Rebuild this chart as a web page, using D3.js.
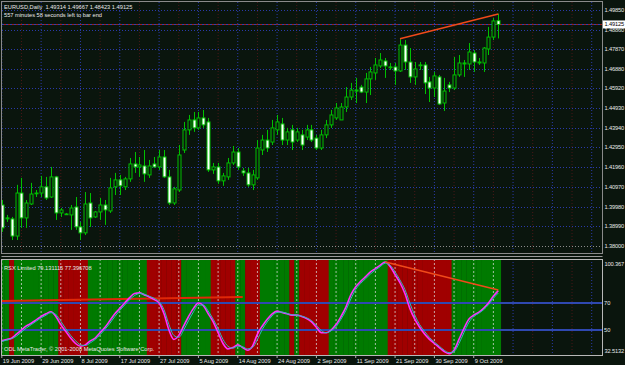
<!DOCTYPE html>
<html><head><meta charset="utf-8">
<script src="https://cdn.jsdelivr.net/npm/d3@7/dist/d3.min.js"></script>
<style>html,body{margin:0;padding:0;background:#0a150d;}svg{display:block}text{font-family:"Liberation Sans",Arial,sans-serif;white-space:pre}</style>
</head><body>
<svg id="c" width="625" height="365"></svg>
<script>
// ---------- DATA ----------
const symbolTitle = "EURUSD,Daily  1.49314 1.49667 1.48423 1.49125";
const timerText = "557 minutes 58 seconds left to bar end";
const rsiTitle = "RSX Limited 79.131115 77.396708";
const copyright = "ODL MetaTrader, \u00a9 2001-2008 MetaQuotes Software Corp.";
const dateLabels = ["19 Jun 2009","29 Jun 2009","8 Jul 2009","17 Jul 2009","27 Jul 2009","5 Aug 2009","14 Aug 2009","24 Aug 2009","2 Sep 2009","11 Sep 2009","21 Sep 2009","30 Sep 2009","9 Oct 2009"];
const dateLabelEvery = 8;
const priceTicks = [1.49850,1.48860,1.47870,1.46880,1.45920,1.44930,1.43940,1.42950,1.41960,1.40970,1.39980,1.38990,1.38000];
const priceMin = 1.38000, priceMax = 1.49850;
const bidPrice = 1.49125;
const rsiMin = 32.5132, rsiMax = 100.367;
const rsiLevels = [70, 50];
// candles: [open, high, low, close]
const candles = [
[1.4006,1.4031,1.3871,1.3891],[1.3941,1.3956,1.3921,1.3936],[1.3936,1.3946,1.3830,1.3850],[1.3850,1.4107,1.3830,1.4066],
[1.4066,1.4142,1.3891,1.3941],[1.3941,1.4031,1.3891,1.4016],[1.4011,1.4117,1.4006,1.4061],[1.4066,1.4081,1.4046,1.4063],
[1.4066,1.4152,1.4046,1.4097],[1.4097,1.4147,1.4031,1.4041],[1.4046,1.4197,1.4041,1.4147],[1.4147,1.4152,1.3931,1.3966],
[1.3966,1.3991,1.3946,1.3981],[1.3961,1.3966,1.3956,1.3961],[1.3956,1.4006,1.3881,1.3991],[1.3996,1.4046,1.3881,1.3896],
[1.3896,1.3921,1.3830,1.3866],[1.3866,1.4071,1.3855,1.4011],[1.4016,1.4066,1.3896,1.3941],[1.3946,1.3976,1.3941,1.3971],
[1.3971,1.4041,1.3931,1.4006],[1.4006,1.4031,1.3906,1.3981],[1.3976,1.4142,1.3966,1.4092],[1.4097,1.4167,1.4056,1.4132],
[1.4132,1.4157,1.4056,1.4102],[1.4097,1.4147,1.4081,1.4137],[1.4137,1.4242,1.4122,1.4212],[1.4212,1.4272,1.4167,1.4197],
[1.4197,1.4247,1.4147,1.4207],[1.4202,1.4282,1.4122,1.4162],[1.4157,1.4232,1.4142,1.4202],[1.4212,1.4247,1.4192,1.4197],
[1.4197,1.4282,1.4182,1.4247],[1.4247,1.4282,1.4142,1.4147],[1.4147,1.4182,1.4006,1.4016],[1.4016,1.4097,1.4006,1.4087],
[1.4081,1.4307,1.4071,1.4257],[1.4282,1.4423,1.4267,1.4383],[1.4383,1.4458,1.4358,1.4433],[1.4433,1.4473,1.4373,1.4393],
[1.4393,1.4473,1.4383,1.4443],[1.4443,1.4483,1.4393,1.4408],[1.4423,1.4443,1.4172,1.4182],[1.4182,1.4217,1.4162,1.4197],
[1.4197,1.4217,1.4112,1.4127],[1.4127,1.4167,1.4102,1.4152],[1.4147,1.4242,1.4132,1.4217],[1.4217,1.4302,1.4207,1.4272],
[1.4272,1.4292,1.4182,1.4197],[1.4177,1.4192,1.4152,1.4167],[1.4167,1.4192,1.4097,1.4107],[1.4107,1.4182,1.4081,1.4157],
[1.4142,1.4332,1.4132,1.4292],[1.4282,1.4358,1.4257,1.4332],[1.4332,1.4383,1.4272,1.4292],[1.4322,1.4433,1.4307,1.4393],
[1.4383,1.4458,1.4358,1.4423],[1.4413,1.4443,1.4307,1.4332],[1.4332,1.4393,1.4307,1.4373],[1.4383,1.4408,1.4282,1.4322],
[1.4332,1.4393,1.4322,1.4373],[1.4358,1.4383,1.4282,1.4307],[1.4347,1.4408,1.4332,1.4383],[1.4383,1.4408,1.4322,1.4332],
[1.4342,1.4358,1.4282,1.4292],[1.4292,1.4383,1.4282,1.4358],[1.4358,1.4433,1.4342,1.4408],[1.4408,1.4483,1.4393,1.4458],
[1.4443,1.4518,1.4433,1.4493],[1.4433,1.4518,1.4433,1.4498],[1.4498,1.4598,1.4473,1.4548],[1.4548,1.4619,1.4533,1.4583],
[1.4583,1.4644,1.4518,1.4578],[1.4598,1.4609,1.4568,1.4573],[1.4573,1.4669,1.4518,1.4639],[1.4639,1.4699,1.4558,1.4674],
[1.4669,1.4744,1.4634,1.4709],[1.4704,1.4769,1.4694,1.4734],[1.4729,1.4744,1.4644,1.4704],[1.4699,1.4719,1.4684,1.4698],
[1.4699,1.4719,1.4609,1.4679],[1.4679,1.4839,1.4674,1.4809],[1.4809,1.4834,1.4684,1.4724],[1.4724,1.4794,1.4619,1.4649],
[1.4649,1.4724,1.4609,1.4689],[1.4709,1.4724,1.4684,1.4708],[1.4709,1.4724,1.4563,1.4619],[1.4624,1.4649,1.4523,1.4593],
[1.4593,1.4674,1.4548,1.4654],[1.4649,1.4659,1.4508,1.4513],[1.4518,1.4644,1.4478,1.4578],[1.4609,1.4624,1.4573,1.4593],
[1.4593,1.4749,1.4583,1.4659],[1.4659,1.4759,1.4649,1.4719],[1.4719,1.4734,1.4649,1.4714],[1.4714,1.4819,1.4684,1.4774],
[1.4769,1.4784,1.4674,1.4724],[1.4719,1.4744,1.4709,1.4724],[1.4719,1.4799,1.4674,1.4794],[1.4789,1.4900,1.4759,1.4849],
[1.4849,1.4945,1.4834,1.4930],[1.49314,1.49667,1.48423,1.49125]
];
const rsxMain = [42,43,44,47,50,53,55,57.5,60,62, 63.5,60,54,49,44,40,38,39,42,44,
48,52,57,62,66,70,74,77,77.5,76, 74.5,72.5,70,62,50,43,46,53,60,66,
70,68,62,56,48,40,36,37,39,37, 35,38,47,53,58,62,64,63,62,61,
61,60,58.5,56,52,48,48,50,54,60, 67,76,82,86,89.5,93,95.5,98,100.367,97,
91,85,77,66,58,52,47,43,40,37, 34,32.5132,35,43,51,58,61,63,66,70, 75,79.131115];
const rsxSignal = [41.5,42.5,43.5,45.5,48.5,51.5,54,56.5,59,61, 62.8,61.5,56.5,51,46,42,39,38.5,40.5,43,
46.5,50.5,55,60,64.5,68.5,72.5,75.5,77,76.5, 75,73.5,71,65,54,46,44.5,50,57,63.5,
68.5,68.5,64,58,51,43,38,36.5,38,37.5, 36,37,43,50.5,56,60.5,63,63.3,62.3,61.3,
61,60.3,59,57,53.5,49.5,48,49.5,52.5,58, 64.5,73,80,84.5,88,91.5,94.5,97,99.5,98,
93,87,80,70,61,54,49,44.5,41,38, 35,33.2,34,40,48,55.5,60,62.3,65,68.7, 73.5,77.396708];
// background state per bar: G = rising (green), R = falling (red)
const bandState = "GGRGGGGGGGGGRRRRRRGGGGGGGGGGGGRRRRRRRGGGGGGRRRRRGGRRRGGGGGGRGRRRRRRGGGGGGGGGGGGRRRRRRRRRRRRRGGGGGGGGGG";
// drawn trend lines: [bar, value]
const priceTrend = [[81,1.4841],[101,1.4965]];
const rsiTrendUp = [[0,71.5],[49,74.4]];
const rsiTrendDown = [[78,100.367],[101,79.6]];

// ---------- DRAW ----------
const bg="#0a150d", gridBlue="#2a3aa8", frame="#8a8a8a", txt="#e8e8e8", green="#00c000";
const FS=5.7;
const svg=d3.select("#c");
svg.append("rect").attr("width",625).attr("height",365).attr("fill",bg);
const left=2, right=602, mainTop=2, mainBot=253, rsiTop=259, rsiBot=355;
const nBars=candles.length;
const x=d3.scaleLinear().domain([0,nBars-1]).range([1.8,498.3]);
const step=x(1)-x(0);
const yP=d3.scaleLinear().domain([priceMin,priceMax]).range([246,10]);
const yR=d3.scaleLinear().domain([rsiMin,rsiMax]).range([353.6,262]);

const defs=svg.append("defs");
defs.append("clipPath").attr("id","cm").append("rect").attr("x",left).attr("y",mainTop).attr("width",right-left).attr("height",mainBot-mainTop);
defs.append("clipPath").attr("id","cr").append("rect").attr("x",left).attr("y",rsiTop+1).attr("width",right-left).attr("height",rsiBot-rsiTop-1);

// main grid
const gMain=svg.append("g").attr("clip-path","url(#cm)");
const gridBars=d3.range(0,124,4);
gMain.selectAll("line.vg").data(gridBars).join("line")
  .attr("x1",d=>x(d)).attr("x2",d=>x(d)).attr("y1",mainTop).attr("y2",mainBot)
  .attr("stroke",d=>d%8===0?gridBlue:"#4a1818").attr("stroke-dasharray","1,2");
gMain.selectAll("line.hg").data(priceTicks).join("line")
  .attr("x1",left).attr("x2",right).attr("y1",d=>Math.round(yP(d))+0.5).attr("y2",d=>Math.round(yP(d))+0.5)
  .attr("stroke",d=>d===priceMin?"#8c8c8c":gridBlue).attr("stroke-dasharray","1,2");
// bid line
gMain.append("line").attr("x1",left).attr("x2",right).attr("y1",Math.round(yP(bidPrice))+0.5).attr("y2",Math.round(yP(bidPrice))+0.5)
  .attr("stroke","#3040b0").attr("stroke-dasharray","2,2");
gMain.append("line").attr("x1",left).attr("x2",right).attr("y1",Math.round(yP(bidPrice))+0.5).attr("y2",Math.round(yP(bidPrice))+0.5)
  .attr("stroke","#a02020").attr("stroke-dasharray","2,2").attr("stroke-dashoffset",2);

// candles
const cg=gMain.selectAll("g.c").data(candles).join("g");
cg.append("line").attr("x1",(d,i)=>Math.round(x(i))+0.5).attr("x2",(d,i)=>Math.round(x(i))+0.5)
  .attr("y1",d=>yP(d[1])).attr("y2",d=>yP(d[2])).attr("stroke",green).attr("stroke-width",1);
cg.append("rect").attr("x",(d,i)=>Math.round(x(i))-1).attr("width",3)
  .attr("y",d=>yP(Math.max(d[0],d[3]))).attr("height",d=>Math.max(0.8,Math.abs(yP(d[0])-yP(d[3]))))
  .attr("fill",d=>d[3]<d[0]?"#ffffff":bg).attr("stroke",green).attr("stroke-width",1);
// price trend line
gMain.append("line").attr("x1",x(priceTrend[0][0])).attr("y1",yP(priceTrend[0][1]))
  .attr("x2",x(priceTrend[1][0])).attr("y2",yP(priceTrend[1][1])).attr("stroke","#f04a1a").attr("stroke-width",1.5);

// RSI panel
const gR=svg.append("g").attr("clip-path","url(#cr)");
gR.selectAll("rect.band").data(bandState.split("")).join("rect")
  .attr("x",(d,i)=>x(i-0.5)).attr("width",step+0.3).attr("y",rsiTop+1).attr("height",rsiBot-rsiTop-1)
  .attr("fill",d=>d==="G"?"#007a00":"#a00000");
const bandEnd=x(nBars-0.5);
gR.selectAll("line.vg").data(gridBars).join("line")
  .attr("x1",d=>x(d)).attr("x2",d=>x(d)).attr("y1",rsiTop).attr("y2",rsiBot)
  .attr("stroke",d=>x(d)<bandEnd?"#d8d8d8":(d%8===0?gridBlue:"#4a1818"))
  .attr("stroke-dasharray",d=>x(d)<bandEnd?"2,2":"1,2").attr("stroke-opacity",d=>x(d)<bandEnd?0.75:1);
gR.selectAll("line.lv").data(rsiLevels).join("line")
  .attr("x1",left).attr("x2",right).attr("y1",d=>yR(d)).attr("y2",d=>yR(d))
  .attr("stroke","#2f48b0").attr("stroke-width",2);
gR.append("line").attr("x1",x(rsiTrendUp[0][0])).attr("y1",yR(rsiTrendUp[0][1]))
  .attr("x2",x(rsiTrendUp[1][0])).attr("y2",yR(rsiTrendUp[1][1])).attr("stroke","#e02808").attr("stroke-width",2);
const line=d3.line().x((d,i)=>x(i)).y(d=>yR(d)).curve(d3.curveMonotoneX);
gR.append("path").attr("d",line(rsxMain)).attr("fill","none").attr("stroke","#ff30ff").attr("stroke-width",1.6);
gR.append("path").attr("d",line(rsxSignal)).attr("fill","none").attr("stroke","#30b8c0").attr("stroke-width",1);
gR.append("line").attr("x1",x(rsiTrendDown[0][0])).attr("y1",yR(rsiTrendDown[0][1]))
  .attr("x2",x(rsiTrendDown[1][0])).attr("y2",yR(rsiTrendDown[1][1])).attr("stroke","#f04a1a").attr("stroke-width",1.5);

// frames
svg.append("rect").attr("x",left-0.5).attr("y",mainTop-0.5).attr("width",right-left+1).attr("height",mainBot-mainTop+1)
  .attr("fill","none").attr("stroke",frame);
svg.append("line").attr("x1",left-0.5).attr("x2",right+0.5).attr("y1",256.5).attr("y2",256.5).attr("stroke","#9a9a9a");
svg.append("rect").attr("x",left-0.5).attr("y",rsiTop+0.5).attr("width",right-left+1).attr("height",rsiBot-rsiTop)
  .attr("fill","none").attr("stroke","#b8b8b8");

// price axis labels
svg.selectAll("text.pl").data(priceTicks).join("text").attr("x",604.5).attr("y",d=>yP(d)+2)
  .attr("font-size",FS).attr("letter-spacing",-0.15).attr("fill",txt).text(d=>d3.format(".5f")(d));
svg.append("rect").attr("x",603).attr("y",yP(bidPrice)-4).attr("width",22).attr("height",8).attr("fill","#ffffff");
svg.append("text").attr("x",604.5).attr("y",yP(bidPrice)+2).attr("font-size",FS).attr("letter-spacing",-0.15).attr("fill","#000").text(d3.format(".5f")(bidPrice));
// rsi axis labels
svg.append("text").attr("x",604.5).attr("y",yR(rsiMax)+4).attr("font-size",FS).attr("letter-spacing",-0.15).attr("fill",txt).text(d3.format(".3f")(rsiMax));
svg.selectAll("text.rl").data(rsiLevels).join("text").attr("x",604).attr("y",d=>yR(d)+2)
  .attr("font-size",FS).attr("fill",txt).text(d=>d);
svg.append("text").attr("x",604.5).attr("y",yR(rsiMin)-1).attr("font-size",FS).attr("letter-spacing",-0.15).attr("fill",txt).text(d3.format(".4f")(rsiMin));

// date axis
svg.selectAll("line.dt").data(dateLabels).join("line")
  .attr("x1",(d,i)=>x(i*dateLabelEvery)).attr("x2",(d,i)=>x(i*dateLabelEvery)).attr("y1",rsiBot).attr("y2",rsiBot+3).attr("stroke","#b0b0b0");
svg.selectAll("text.dl").data(dateLabels).join("text").attr("x",(d,i)=>x(i*dateLabelEvery)+1).attr("y",363)
  .attr("font-size",FS).attr("fill",txt).text(d=>d);

// titles
svg.append("text").attr("x",4).attr("y",9).attr("font-size",FS).attr("fill",txt).text(symbolTitle);
svg.append("text").attr("x",4).attr("y",17).attr("font-size",FS).attr("fill",txt).text(timerText);
svg.append("text").attr("x",4).attr("y",270).attr("font-size",FS).attr("fill",txt).text(rsiTitle);
svg.append("text").attr("x",4).attr("y",351).attr("font-size",FS).attr("fill",txt).text(copyright);
</script>
</body></html>
